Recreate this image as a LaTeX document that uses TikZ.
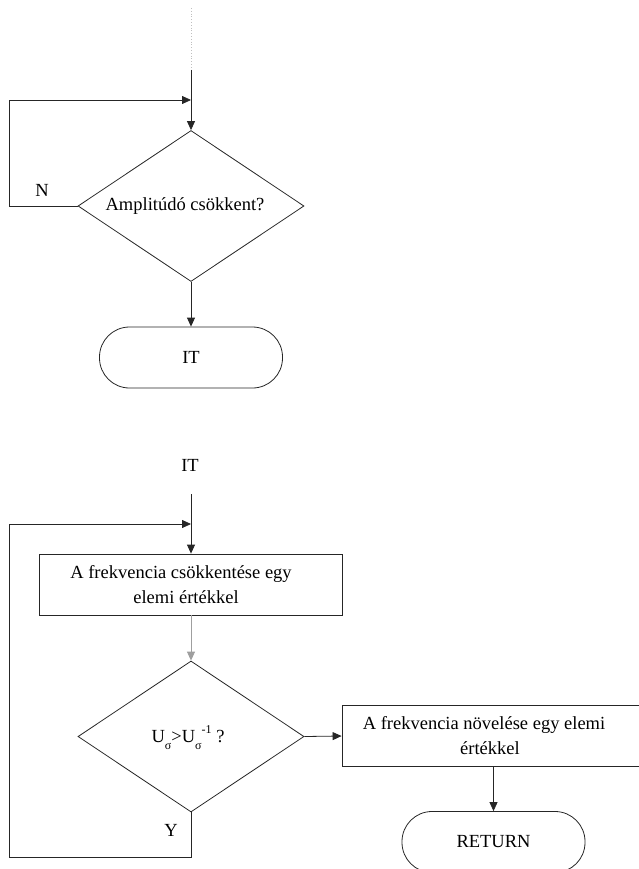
\documentclass[tikz,border=0pt]{standalone}
\usepackage{fontspec}
\setmainfont{Liberation Serif}
\usetikzlibrary{shapes.geometric,arrows.meta}
\newcommand{\mysubs}[1]{\raisebox{-0.42em}{\fontsize{12}{12}\selectfont #1}}
\newcommand{\mysups}[1]{\raisebox{0.45em}{\fontsize{12}{12}\selectfont #1}}
\begin{document}
\begin{tikzpicture}[x=1pt,y=-1pt,
  font=\fontsize{18.5}{25}\selectfont,
  line width=0.8pt, draw=black!85,
  >={Triangle[length=9pt,width=8pt]},
  dia/.style={draw, diamond, inner sep=0pt, minimum width=226pt, minimum height=151pt},
  term/.style={draw, rectangle, rounded corners=30pt, minimum width=183pt, minimum height=61pt, inner sep=0pt},
  procbox/.style={draw, rectangle, minimum width=303pt, minimum height=61pt, align=center, inner sep=0pt},
  lbl/.style={inner sep=0pt}]
\useasboundingbox (0,0) rectangle (639,869);

% ---- first part ----
\coordinate (top) at (191,8);
\coordinate (solidstart) at (191,70);
\coordinate (j1) at (191,100);
\coordinate (c0) at (9,206);
\node[dia] (d1) at (191,206) {};
\node[lbl] (t1) at (185,206) {Amplitúdó csökkent?};
\node[lbl] (n) at (42,190) {N};
\node[term] (it1) at (191,357.5) {IT};

\draw[gray!50, dotted] (top) -- (solidstart);
\draw[->] (solidstart) -- (d1.north);
\draw[->] (d1.west) -- (c0) |- (j1);
\draw[->] (d1.south) -- (it1.north);

% ---- second part ----
\node[lbl] (it2) at (190,465) {IT};
\coordinate (s2) at (191,494);
\coordinate (j2) at (191,524);
\coordinate (c1) at (9,857);
\node[procbox] (b1) at (191,584.5) {A frekvencia csökkentése egy\hspace*{20pt}\\elemi értékkel\hspace*{10pt}};
\node[dia] (d2) at (191,736.5) {};
\node[lbl] (t2) at (188,738) {U\mysubs{σ}>U\mysubs{σ}\mysups{-1} ?};
\node[procbox] (b2) at (493.5,736) {A frekvencia növelése egy elemi\hspace*{19pt}\\értékkel\hspace*{7pt}};
\node[term] (ret) at (493.5,842) {RETURN};
\node[lbl] (y) at (171,830) {Y};

\draw[->] (s2) -- (b1.north);
\draw[->, draw=gray!75, fill=gray!75] (b1.south) -- (d2.north);
\draw[->] (d2.east) -- (b2.west);
\draw[->] (b2.south) -- (ret.north);
\draw[->] (d2.south) |- (c1) |- (j2);
\end{tikzpicture}
\end{document}
